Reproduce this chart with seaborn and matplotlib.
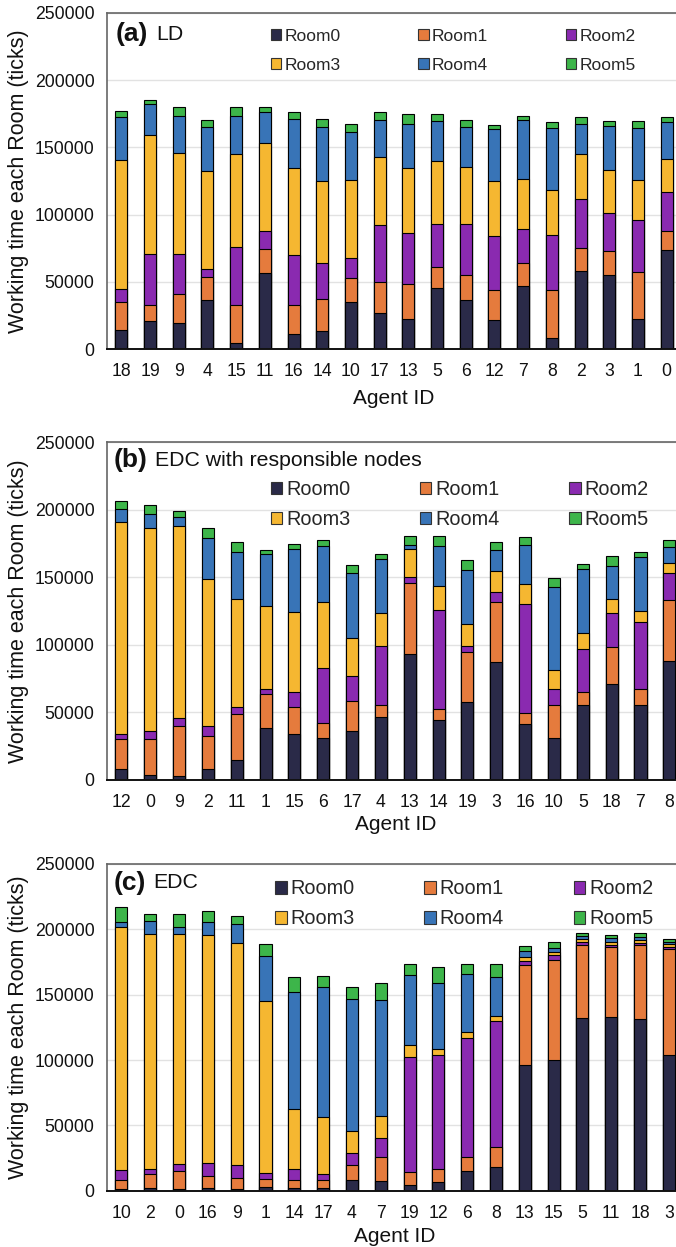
import numpy as np
import pandas as pd
import matplotlib
matplotlib.use("Agg")
import matplotlib.pyplot as plt
from matplotlib.patches import Patch
import seaborn as sns

sns.set_theme(style="white")
plt.rcParams['font.family'] = ['Liberation Sans', 'DejaVu Sans']

rooms = ["Room0", "Room1", "Room2", "Room3", "Room4", "Room5"]
colors = ["#2a2a48", "#e57b3d", "#8a2ab0", "#f5b731", "#3874b7", "#3db54a"]

# ---- panel (a) LD ----
agents_a = ["18", "19", "9", "4", "15", "11", "16", "14", "10", "17",
            "13", "5", "6", "12", "7", "8", "2", "3", "1", "0"]
a_room0 = [14300, 20900, 19500, 36500, 4700, 56900, 11600, 13500, 35200, 26600,
           22700, 45800, 36700, 21700, 47300, 8100, 58400, 55400, 22700, 73400]
a_room1 = [20900, 12300, 21900, 17400, 28500, 17500, 21600, 24200, 18000, 23600,
           26100, 15300, 18700, 22600, 16500, 36200, 17000, 17800, 34900, 14500]
a_room2 = [9800, 37700, 29500, 6000, 42900, 13500, 37000, 26600, 14800, 41900,
           37700, 32000, 37700, 39900, 25600, 40700, 36400, 27800, 38500, 28800]
a_room3 = [95400, 88500, 74700, 72400, 68700, 65100, 64800, 60600, 57600, 50500,
           48500, 46600, 42600, 40900, 37000, 33200, 33000, 32000, 29800, 24400]
a_room4 = [32200, 22900, 27600, 32500, 28800, 22900, 35700, 39900, 35500, 27400,
           32700, 29500, 29100, 38200, 43600, 45800, 22200, 32500, 38100, 27400]
a_room5 = [4700, 2900, 6400, 5200, 6700, 3700, 5200, 5900, 5900, 5900,
           6700, 5200, 5200, 3000, 3600, 4500, 5900, 3700, 5200, 4400]

# ---- panel (b) EDC with responsible nodes ----
agents_b = ["12", "0", "9", "2", "11", "1", "15", "6", "17", "4",
            "13", "14", "19", "3", "16", "10", "5", "18", "7", "8"]
b_room0 = [8100, 3700, 3200, 8100, 14500, 38200, 34000, 31000, 36200, 46300,
           93600, 44600, 57400, 87200, 41400, 31000, 55200, 70700, 55200, 88400]
b_room1 = [21900, 26800, 36500, 24700, 34300, 25100, 20400, 10900, 22200, 8900,
           52500, 7600, 37700, 44300, 7900, 24200, 10300, 27600, 12500, 45100]
b_room2 = [4000, 5500, 6400, 6900, 4900, 3700, 11100, 41300, 18900, 44300,
           4400, 73700, 4400, 7900, 81200, 12500, 31800, 25300, 49500, 19700]
b_room3 = [157100, 150700, 142100, 109100, 80300, 62100, 58900, 48300, 28100, 24100,
           20700, 17900, 16300, 15500, 14800, 14100, 11600, 10600, 8200, 7600]
b_room4 = [9600, 10300, 6600, 30300, 35000, 37900, 46800, 41900, 48000, 39900,
           2900, 29600, 39900, 15500, 28800, 61300, 47500, 24400, 39900, 11900]
b_room5 = [5900, 6700, 4500, 7600, 7400, 3400, 3400, 4200, 6000, 4000,
           6200, 7400, 7100, 6000, 5700, 6400, 3700, 7400, 3200, 4900]

# ---- panel (c) EDC ----
agents_c = ["10", "2", "0", "16", "9", "1", "14", "17", "4", "7",
            "19", "12", "6", "8", "13", "15", "5", "11", "18", "3"]
c_room0 = [1500, 2300, 1500, 2300, 1500, 3100, 2300, 2300, 7900, 7100,
           4100, 6400, 14800, 17900, 95900, 100300, 131900, 132700, 131100, 103600]
c_room1 = [6900, 10200, 13300, 8700, 7900, 6100, 5600, 5600, 11500, 18400,
           9900, 9900, 10700, 15300, 76600, 76000, 55900, 53500, 56700, 81100]
c_room2 = [7200, 3800, 5400, 9900, 10000, 4100, 8400, 4600, 9200, 14600,
           88000, 87300, 91100, 96400, 3000, 3800, 2800, 1600, 1500, 1500]
c_room3 = [186200, 180400, 176500, 175000, 170400, 131600, 45900, 43600, 17300, 17300,
           9200, 4600, 4600, 3800, 3600, 2300, 2300, 2200, 2300, 2300]
c_room4 = [4100, 9900, 5300, 10000, 14500, 34900, 90100, 99800, 100500, 88300,
           53600, 50500, 44400, 29900, 4100, 3100, 1700, 3100, 2300, 1500]
c_room5 = [11400, 4900, 9500, 7900, 5900, 8700, 11200, 8100, 9200, 13200,
           8400, 12200, 7600, 9900, 3800, 4500, 2300, 2300, 3000, 2400]

W, H = 676, 1247
fig = plt.figure(figsize=(W / 100, H / 100), dpi=100)


def px_axes(left, top, right, bottom):
    return fig.add_axes([left / W, 1 - bottom / H, (right - left) / W, (bottom - top) / H])


panels = [
    dict(agents=agents_a, data=[a_room0, a_room1, a_room2, a_room3, a_room4, a_room5],
         box=(107, 12.7, 681, 349.3), tag="(a)", title="LD",
         tag_x=116, title_x=156.7, title_y=34, leg_x=270.7, leg_y=29, leg_fs=12.5,
         colsp=4.5, labsp=0.78, xlpad=6),
    dict(agents=agents_b, data=[b_room0, b_room1, b_room2, b_room3, b_room4, b_room5],
         box=(107, 442.3, 683.7, 780), tag="(b)", title="EDC with responsible nodes",
         tag_x=113.3, title_x=155, title_y=460, leg_x=270.7, leg_y=480, leg_fs=14.3,
         colsp=3.5, labsp=0.55, xlpad=3),
    dict(agents=agents_c, data=[c_room0, c_room1, c_room2, c_room3, c_room4, c_room5],
         box=(107, 864, 683.3, 1190.7), tag="(c)", title="EDC",
         tag_x=113.3, title_x=153.3, title_y=882.7, leg_x=275, leg_y=879.5, leg_fs=14.3,
         colsp=3.5, labsp=0.55, xlpad=4),
]

for p in panels:
    l, t, r, b = p["box"]
    ax = px_axes(l, t, r, b)
    ax.set_axisbelow(True)
    ax.yaxis.grid(True, color="#e2e2e2", linewidth=1.0)
    ax.xaxis.grid(False)
    segs = np.array(p["data"], dtype=float)
    cum = np.cumsum(segs, axis=0)
    df = pd.DataFrame({"agent": p["agents"]})
    for k in range(5, -1, -1):
        df["v"] = cum[k]
        sns.barplot(data=df, x="agent", y="v", order=p["agents"], color=colors[k],
                    saturation=1, width=0.42, edgecolor="black", linewidth=0.8,
                    ax=ax, zorder=2)
    handles = [Patch(facecolor=colors[k], edgecolor="#333333", linewidth=0.8,
                     label=rooms[k]) for k in range(6)]
    ax.set_ylim(0, 250000)
    ax.set_xlim(-0.5, 19.5)
    ax.set_yticks(np.arange(0, 250001, 50000))
    ax.tick_params(axis="both", length=0, labelsize=12.7, colors="#111111")
    ax.tick_params(axis="x", pad=10)
    ax.tick_params(axis="y", pad=9)
    ax.set_xlabel("Agent ID", fontsize=15, color="#111111", labelpad=p["xlpad"])
    ax.set_ylabel("Working time each Room (ticks)", fontsize=15.5, color="#111111")
    ax.yaxis.set_label_coords((29 - l) / (r - l), 0.5)
    for s in ["top", "left"]:
        ax.spines[s].set_color("#666666")
        ax.spines[s].set_linewidth(1.2)
    ax.spines["right"].set_visible(False)
    ax.spines["bottom"].set_color("#111111")
    ax.spines["bottom"].set_linewidth(1.4)

    ty = 1 - (p["title_y"] - t) / (b - t)
    ax.text((p["tag_x"] - l) / (r - l), ty, p["tag"], transform=ax.transAxes,
            fontsize=19, fontweight="bold", va="center", ha="left", color="#111111")
    ax.text((p["title_x"] - l) / (r - l), ty, p["title"], transform=ax.transAxes,
            fontsize=15.3, va="center", ha="left", color="#111111")

    order = [0, 3, 1, 4, 2, 5]
    ax.legend([handles[i] for i in order], [rooms[i] for i in order], ncol=3,
              loc="upper left",
              bbox_to_anchor=((p["leg_x"] - l) / (r - l), 1 - (p["leg_y"] - t) / (b - t)),
              frameon=False, borderpad=0, borderaxespad=0, handlelength=0.58,
              handleheight=0.58, handletextpad=0.2, columnspacing=p["colsp"],
              labelspacing=p["labsp"], fontsize=p["leg_fs"])

fig.savefig("out.png", dpi=100)
